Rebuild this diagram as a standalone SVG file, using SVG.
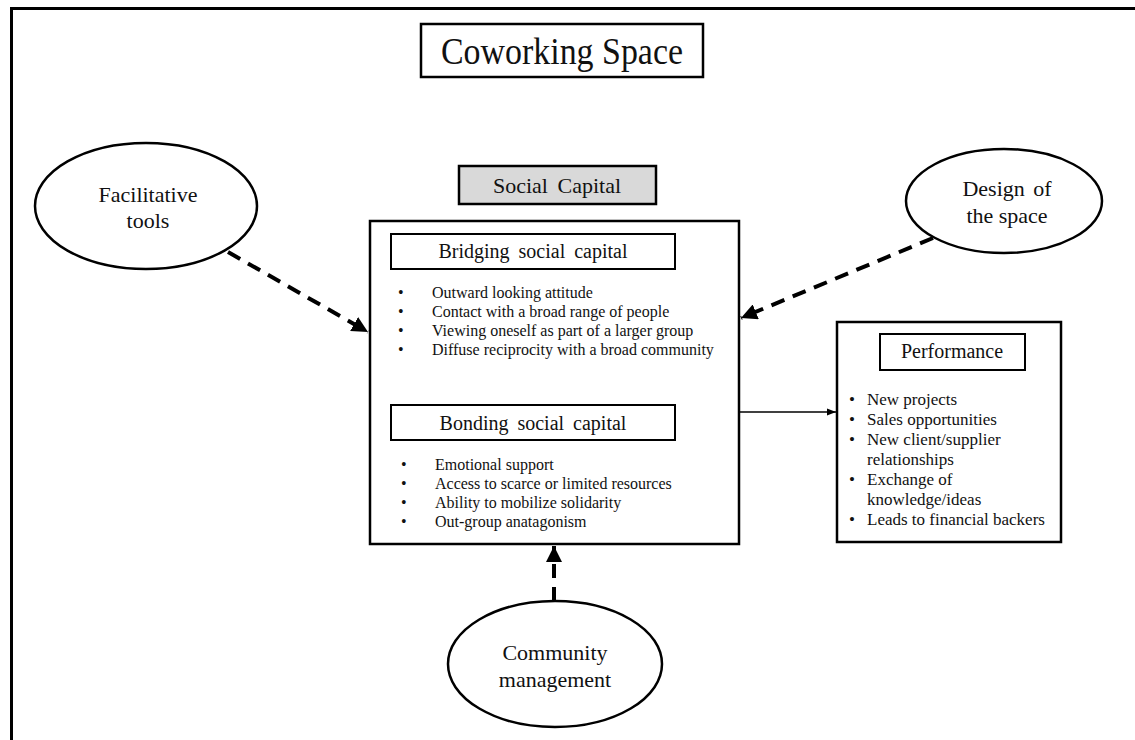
<svg xmlns="http://www.w3.org/2000/svg" width="1135" height="740" viewBox="0 0 1135 740">
  <defs>
    <marker id="head" viewBox="0 0 10 10" refX="10" refY="5" markerWidth="4" markerHeight="4" markerUnits="strokeWidth" orient="auto">
      <path d="M0,0 L10,5 L0,10 Z" fill="#000"/>
    </marker>
    <marker id="headThin" viewBox="0 0 10 10" refX="10" refY="5" markerWidth="6" markerHeight="6" markerUnits="strokeWidth" orient="auto">
      <path d="M0,1 L10,5 L0,9 Z" fill="#000"/>
    </marker>
    <style>
      text { font-family: "Liberation Serif", "Times New Roman", serif; fill: #111; }
      .frame { fill: none; stroke: #000; stroke-width: 3; }
      .box { fill: #fff; stroke: #000; stroke-width: 2.5; }
      .sub { fill: #fff; stroke: #000; stroke-width: 2; }
      .grey { fill: #d9d9d9; stroke: #000; stroke-width: 2.5; }
      .oval { fill: #fff; stroke: #000; stroke-width: 2.5; }
      .dash { fill: none; stroke: #000; stroke-width: 4; stroke-dasharray: 14 9; marker-end: url(#head); }
      .solid { fill: none; stroke: #000; stroke-width: 1.5; marker-end: url(#headThin); }
      .title { font-size: 37px; }
      .oval-label { font-size: 22px; text-anchor: middle; }
      .head { font-size: 20px; text-anchor: middle; word-spacing: 4px; }
      .item { font-size: 16px; }
      .perf { font-size: 17px; }
    </style>
  </defs>

  <!-- outer frame of the coworking space -->
  <path class="frame" d="M11.5,745 V8.5 H1140"/>

  <g id="coworking-space">
    <rect class="box" x="421" y="24" width="282" height="53"/>
    <text class="title" x="562" y="64" text-anchor="middle" textLength="242" lengthAdjust="spacingAndGlyphs">Coworking Space</text>
  </g>

  <!-- connectors -->
  <g id="connectors">
    <line class="dash" x1="228" y1="252" x2="368" y2="332"/>
    <line class="dash" x1="933" y1="238" x2="741" y2="318"/>
    <line class="dash" x1="554" y1="601" x2="554" y2="546"/>
    <line class="solid" x1="740" y1="412" x2="836" y2="412"/>
  </g>

  <g id="facilitative-tools">
    <ellipse class="oval" cx="146" cy="206" rx="111" ry="63"/>
    <text class="oval-label" x="148" y="202">Facilitative</text>
    <text class="oval-label" x="148" y="228">tools</text>
  </g>

  <g id="design-of-the-space">
    <ellipse class="oval" cx="1004" cy="201" rx="98" ry="52"/>
    <text class="oval-label" x="1007" y="196" word-spacing="3">Design of</text>
    <text class="oval-label" x="1007" y="223">the space</text>
  </g>

  <g id="community-management">
    <ellipse class="oval" cx="555" cy="664" rx="107" ry="63"/>
    <text class="oval-label" x="555" y="660">Community</text>
    <text class="oval-label" x="555" y="687">management</text>
  </g>

  <g id="social-capital-label">
    <rect class="grey" x="459" y="166" width="197" height="38"/>
    <text class="head" x="557" y="193" style="font-size:22px">Social Capital</text>
  </g>

  <g id="social-capital">
    <rect class="box" x="370" y="221" width="369" height="323"/>

    <g id="bridging">
      <rect class="sub" x="391" y="234" width="284" height="35"/>
      <text class="head" x="533" y="258">Bridging social capital</text>
      <g class="item">
        <text x="398" y="298">•</text><text x="432" y="298">Outward looking attitude</text>
        <text x="398" y="317">•</text><text x="432" y="317">Contact with a broad range of people</text>
        <text x="398" y="336">•</text><text x="432" y="336">Viewing oneself as part of a larger group</text>
        <text x="398" y="355">•</text><text x="432" y="355">Diffuse reciprocity with a broad community</text>
      </g>
    </g>

    <g id="bonding">
      <rect class="sub" x="391" y="405" width="284" height="35"/>
      <text class="head" x="533" y="430">Bonding social capital</text>
      <g class="item">
        <text x="401" y="470">•</text><text x="435" y="470">Emotional support</text>
        <text x="401" y="489">•</text><text x="435" y="489">Access to scarce or limited resources</text>
        <text x="401" y="508">•</text><text x="435" y="508">Ability to mobilize solidarity</text>
        <text x="401" y="527">•</text><text x="435" y="527">Out-group anatagonism</text>
      </g>
    </g>
  </g>

  <g id="performance">
    <rect class="box" x="837" y="322" width="224" height="220"/>
    <rect class="sub" x="880" y="334" width="145" height="36"/>
    <text class="head" x="952" y="358">Performance</text>
    <g class="perf">
      <text x="849" y="405">•</text><text x="867" y="405">New projects</text>
      <text x="849" y="425">•</text><text x="867" y="425">Sales opportunities</text>
      <text x="849" y="445">•</text><text x="867" y="445">New client/supplier</text>
      <text x="867" y="465">relationships</text>
      <text x="849" y="485">•</text><text x="867" y="485">Exchange of</text>
      <text x="867" y="505">knowledge/ideas</text>
      <text x="849" y="525">•</text><text x="867" y="525">Leads to financial backers</text>
    </g>
  </g>
</svg>
